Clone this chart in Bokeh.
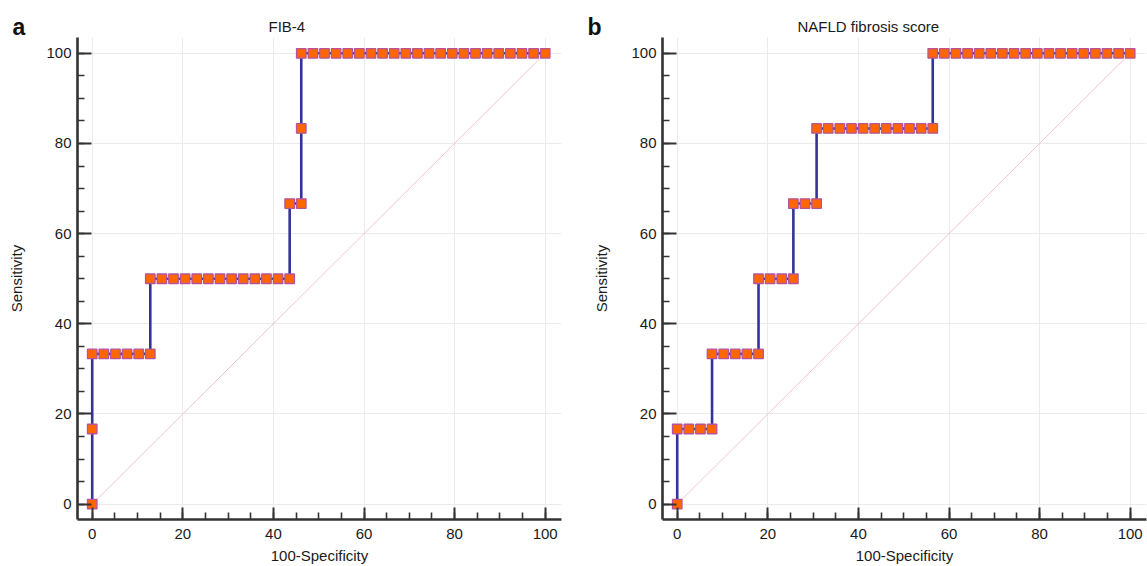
from bokeh.plotting import figure
from bokeh.layouts import row
from bokeh.models import Range1d, SingleIntervalTicker, Label
from bokeh.embed import file_html
from bokeh.resources import INLINE

# ---- data (ROC curves, 100-Specificity vs Sensitivity) ----
fib4_x = [0, 0,
          0, 2.56, 5.13, 7.69, 10.26, 12.82,
          12.82, 15.38, 17.95, 20.51, 23.08, 25.64, 28.21, 30.77, 33.33, 35.90, 38.46, 41.03, 43.59,
          43.59, 46.15,
          46.15,
          46.15, 48.72, 51.28, 53.85, 56.41, 58.97, 61.54, 64.10, 66.67, 69.23, 71.79, 74.36,
          76.92, 79.49, 82.05, 84.62, 87.18, 89.74, 92.31, 94.87, 97.44, 100]
fib4_y = [0, 16.67,
          33.33, 33.33, 33.33, 33.33, 33.33, 33.33,
          50, 50, 50, 50, 50, 50, 50, 50, 50, 50, 50, 50, 50,
          66.67, 66.67,
          83.33,
          100, 100, 100, 100, 100, 100, 100, 100, 100, 100, 100, 100,
          100, 100, 100, 100, 100, 100, 100, 100, 100, 100]

nfs_x = [0,
         0, 2.56, 5.13, 7.69,
         7.69, 10.26, 12.82, 15.38, 17.95,
         17.95, 20.51, 23.08, 25.64,
         25.64, 28.21, 30.77,
         30.77, 33.33, 35.90, 38.46, 41.03, 43.59, 46.15, 48.72, 51.28, 53.85, 56.41,
         56.41, 58.97, 61.54, 64.10, 66.67, 69.23, 71.79, 74.36, 76.92, 79.49, 82.05,
         84.62, 87.18, 89.74, 92.31, 94.87, 97.44, 100]
nfs_y = [0,
         16.67, 16.67, 16.67, 16.67,
         33.33, 33.33, 33.33, 33.33, 33.33,
         50, 50, 50, 50,
         66.67, 66.67, 66.67,
         83.33, 83.33, 83.33, 83.33, 83.33, 83.33, 83.33, 83.33, 83.33, 83.33, 83.33,
         100, 100, 100, 100, 100, 100, 100, 100, 100, 100, 100,
         100, 100, 100, 100, 100, 100, 100]

diag_x = [0, 100]
diag_y = [0, 100]

titles = ["FIB-4", "NAFLD fibrosis score"]
letters = ["a", "b"]
x_label = "100-Specificity"
y_label = "Sensitivity"

FONT = "Liberation Sans"


def style_axis(ax, major_in, label_standoff, axis_standoff):
    ax.ticker = SingleIntervalTicker(interval=20, num_minor_ticks=4)
    ax.axis_line_color = "#333333"
    ax.axis_line_width = 2.6
    ax.major_tick_line_color = "#333333"
    ax.major_tick_line_width = 2
    ax.major_tick_in = major_in
    ax.major_tick_out = 0
    ax.minor_tick_line_color = "#333333"
    ax.minor_tick_line_width = 1.6
    ax.minor_tick_in = 7
    ax.minor_tick_out = 0
    ax.major_label_text_font = FONT
    ax.major_label_text_font_size = "15px"
    ax.major_label_text_color = "#1a1a1a"
    ax.major_label_standoff = label_standoff
    ax.axis_label_text_font = FONT
    ax.axis_label_text_font_size = "15px"
    ax.axis_label_text_font_style = "normal"
    ax.axis_label_text_color = "#1a1a1a"
    ax.axis_label_standoff = axis_standoff


def make_panel(xs, ys, title, title_offset, border_left, border_right):
    p = figure(frame_width=484, frame_height=482,
               x_range=Range1d(-3.25, 103.6), y_range=Range1d(-3.4, 103.5),
               output_backend="svg", toolbar_location=None,
               min_border_left=border_left, min_border_right=border_right,
               min_border_top=37, min_border_bottom=45,
               x_axis_label=x_label, y_axis_label=y_label)
    p.outline_line_color = None
    p.background_fill_color = "white"
    p.border_fill_color = "white"

    p.title.text = title
    p.title.align = "left"
    p.title.offset = title_offset
    p.title.standoff = 6
    p.title.text_font = FONT
    p.title.text_font_size = "15px"
    p.title.text_font_style = "normal"
    p.title.text_color = "#1a1a1a"

    style_axis(p.xaxis[0], 12, 9, 5)
    style_axis(p.yaxis[0], 14, 6, 18)

    for g in (p.xgrid[0], p.ygrid[0]):
        g.ticker = SingleIntervalTicker(interval=20)
        g.grid_line_color = "#ebebeb"
        g.grid_line_width = 1

    p.line(diag_x, diag_y, line_color="#f0c4ce", line_width=1)
    p.line(xs, ys, line_color="#333399", line_width=2.6)
    p.scatter(xs, ys, marker="square", size=9.5, fill_color="#ff6600",
              line_color="#b4559c", line_width=1.3)
    return p


def letter_label(text, cx):
    return Label(x=cx, y=26, x_units="canvas", y_units="canvas",
                 text=text, text_align="left", text_baseline="alphabetic",
                 text_font=FONT, text_font_size="23px", text_font_style="bold",
                 text_color="#111111")


p1 = make_panel(fib4_x, fib4_y, titles[0], 191, 77, 13)
p2 = make_panel(nfs_x, nfs_y, titles[1], 135, 88, 1)

# panel letters live in side panels that have spare room, so they are not clipped to the frame
p1.add_layout(letter_label(letters[0], 12), "right")
p2.add_layout(letter_label(letters[1], 13), "left")

layout = row(p1, p2, spacing=0)
open("out.html", "w").write(file_html(layout, INLINE))
